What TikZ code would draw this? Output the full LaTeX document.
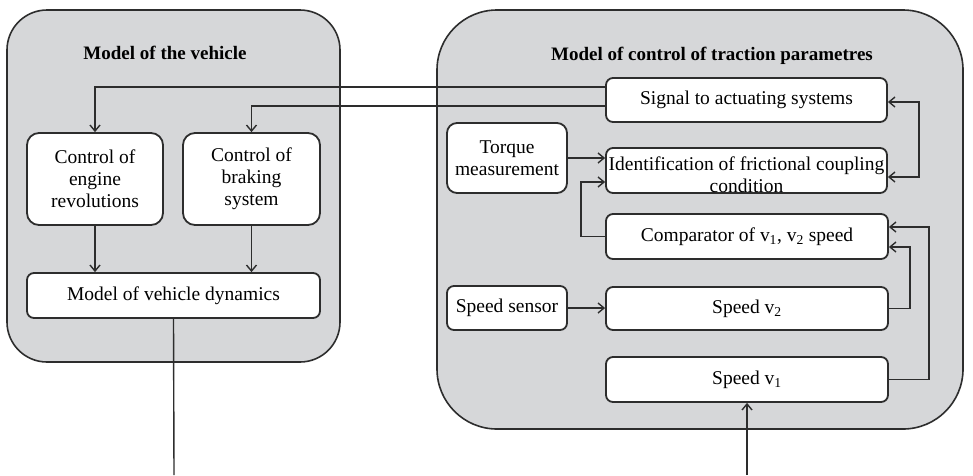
\documentclass[tikz,border=0pt]{standalone}
\usepackage{fontspec}
\setmainfont{Liberation Serif}
\usetikzlibrary{arrows.meta}
\definecolor{panelgray}{RGB}{214,215,217}
\definecolor{linegray}{RGB}{45,45,45}

\begin{document}
\begin{tikzpicture}[x=1pt,y=-1pt,
		box/.style = {draw=linegray,fill=white,line width=1.8pt,rounded corners=7pt,inner sep=0pt,align=center,font=\fontsize{19.5}{22}\selectfont},
		panel/.style = {draw=linegray,fill=panelgray,line width=1.6pt},
		conn/.style = {draw=linegray,line width=1.4pt},
		arr/.style = {conn,-{Straight Barb[length=6pt,width=10pt]}},
		title/.style = {font=\fontsize{19}{22}\selectfont\bfseries}]
		\useasboundingbox (0,0) rectangle (973,475);
		% \draw[step=50] (0,0) grid (973,475);
		\draw[panel,rounded corners=40pt] (7,10) rectangle (340,362);
		\draw[panel,rounded corners=60pt] (437,10) rectangle (963,429);
		\node[title] (t1) at (165,53) {Model of the vehicle};
		\node[title] (t2) at (712,56) {Model of control of traction parametres};
		\node[box,rounded corners=12pt,minimum width=136,minimum height=92] (eng) at (95,179) {Control of\\engine\\revolutions};
		\node[box,rounded corners=12pt,minimum width=137,minimum height=92] (brk) at (251.5,179) {Control of\\braking\\system};
		\node[box,minimum width=293,minimum height=45] (dyn) at (173.5,295.5) {Model of vehicle dynamics};
		\node[box,minimum width=281,minimum height=44] (sig) at (746.5,100) {Signal to actuating systems};
		\node[box,rounded corners=10pt,minimum width=120,minimum height=70] (torq) at (507,158) {Torque\\measurement};
		\node[box,minimum width=281,minimum height=45] (ident) at (746.5,170.5) {};
		\node[align=center,font=\fontsize{19.5}{22}\selectfont] (identtxt) at (746.5,175) {Identification of frictional coupling\\condition};
		\node[box,minimum width=282,minimum height=45] (comp) at (747,236.5) {Comparator of v\textsubscript{1}, v\textsubscript{2} speed};
		\node[box,minimum width=120,minimum height=44] (ssens) at (507,308) {Speed sensor};
		\node[box,minimum width=282,minimum height=43] (v2) at (747,308.5) {Speed v\textsubscript{2}};
		\node[box,minimum width=282,minimum height=45] (v1) at (747,379.5) {Speed v\textsubscript{1}};
		\coordinate (dynout) at (174,475);
		\coordinate (v1in) at (747,475);
		\draw[arr] ([yshift=13pt]sig.west) -| (eng.north);
		\draw[arr] ([yshift=-6pt]sig.west) -| (brk.north);
		\draw[arr] (eng.south) -- (eng.south |- dyn.north);
		\draw[arr] (brk.south) -- (brk.south |- dyn.north);
		\draw[conn] (dyn.south) -- (dynout);
		\draw[arr] (v1in) -- (v1.south);
		\draw[arr] (torq.east) -- (torq.east -| ident.west);
		\draw[arr] (comp.west) -- ++(-24,0) |- ([yshift=-11.5pt]ident.west);
		\draw[arr,{Straight Barb[length=6pt,width=10pt]}-{Straight Barb[length=6pt,width=10pt]}] ([yshift=-2pt]sig.east) -- ++(31,0) |- ([yshift=-6.5pt]ident.east);
		\draw[arr] (v2.east) -- ++(21,0) |- ([yshift=-10.5pt]comp.east);
		\draw[arr] (v1.east) -- ++(40,0) |- ([yshift=9.5pt]comp.east);
		\draw[arr] (ssens.east) -- (ssens.east -| v2.west);
\end{tikzpicture}
\end{document}
